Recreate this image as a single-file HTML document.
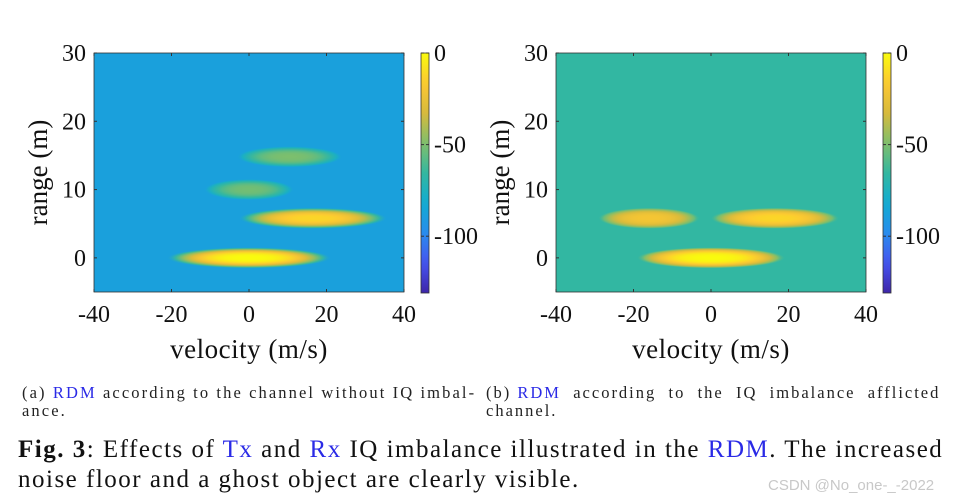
<!DOCTYPE html>
<html><head><meta charset="utf-8"><style>
body{margin:0;background:#fff;width:969px;height:504px;overflow:hidden;font-family:"Liberation Serif",serif}
svg{position:absolute;left:0;top:0}
.cap{position:absolute;font-size:16.5px;color:#222;line-height:18px;letter-spacing:2.1px;white-space:nowrap}
.fig{position:absolute;left:18px;top:435px;font-size:25px;line-height:30px;color:#111;white-space:nowrap;letter-spacing:1.5px}
.b{color:#2a2ae6}
.wm{position:absolute;left:768px;top:477px;font-family:"Liberation Sans",sans-serif;font-size:15px;color:#c8c8c8}
</style></head><body>
<svg id="s" width="969" height="504"></svg>
<div class="cap" style="left:22px;top:384px">(a) <span class="b">RDM</span> according to the channel without IQ imbal-<br>ance.</div>
<div class="cap" style="left:486px;top:384px;letter-spacing:2px">(b) <span class="b">RDM</span>&nbsp; according &nbsp;to &nbsp;the &nbsp;IQ &nbsp;imbalance &nbsp;afflicted<br>channel.</div>
<div class="fig"><b>Fig. 3</b>: Effects of <span class="b">Tx</span> and <span class="b">Rx</span> IQ imbalance illustrated in the <span class="b">RDM</span>. The increased<br>noise floor and a ghost object are clearly visible.</div>
<div class="wm">CSDN @No_one-_-2022</div>
<script>
const xTicks=[-40,-20,0,20,40];
const yTicks=[0,10,20,30];
const cTicks=[0,-50,-100];
const bgA=-88, bgB=-66;
// targets: velocity, range, peak dB, half-width (m/s)
const tgtVelA=[0,16.5,0,10.5];
const tgtRngA=[0,5.8,10,14.8];
const tgtPeakA=[0,-12,-52,-50];
const tgtHwA=[21,19,11.5,13.5];
const tgtVelB=[0,16.5,-16];
const tgtRngB=[0,5.8,5.8];
const tgtPeakB=[0,-12,-20];
const tgtHwB=[19,16.5,13];

const NS="http://www.w3.org/2000/svg",S=document.getElementById('s');
function el(t,a,p){const e=document.createElementNS(NS,t);for(const k in a)e.setAttribute(k,a[k]);(p||S).appendChild(e);return e;}
const P=[[0,[62,38,168]],[.125,[70,84,240]],[.25,[40,140,237]],[.375,[18,172,210]],[.5,[51,183,160]],[.625,[128,191,107]],[.75,[215,186,60]],[.875,[252,200,50]],[1,[249,251,14]]];
function parula(db){let t=Math.max(0,Math.min(1,(db+131)/131));for(let i=1;i<P.length;i++){if(t<=P[i][0]){const a=P[i-1],b=P[i],f=(t-a[0])/(b[0]-a[0]);return 'rgb('+a[1].map((v,j)=>Math.round(v+(b[1][j]-v)*f)).join(',')+')';}}return 'rgb(249,251,14)';}
const defs=el('defs',{});
const cg=el('linearGradient',{id:'cbg',x1:0,y1:1,x2:0,y2:0},defs);
for(let i=0;i<=20;i++)el('stop',{offset:i/20,'stop-color':parula(-131+131*i/20)},cg);
let gid=0;
function panel(ox,bg,vel,rng,peak,hw,tag){
  const L=ox,R=ox+310,T=53,B=292;
  const X=v=>L+(v+40)/80*(R-L), Y=r=>B-(r+5)/35*(B-T);
  el('rect',{x:L,y:T,width:R-L,height:B-T,fill:parula(bg),});
  const cp=el('clipPath',{id:'cp'+tag},defs);el('rect',{x:L,y:T,width:R-L,height:B-T},cp);
  const g=el('g',{'clip-path':'url(#cp'+tag+')'});
  for(let i=0;i<vel.length;i++){
    const id='rg'+(gid++);const rg=el('radialGradient',{id:id},defs);
    for(let k=0;k<=10;k++){const r=k/10;const db=peak[i]+(bg-peak[i])*Math.pow(r,3);
      el('stop',{offset:r,'stop-color':parula(db),'stop-opacity':k==10?0.3:1},rg);}
    const e=el('ellipse',{cx:X(vel[i]),cy:Y(rng[i]),rx:(X(hw[i])-X(0)),ry:10.5,fill:'url(#'+id+')'},g);
    
    
  }
  el('rect',{x:L,y:T,width:R-L,height:B-T,fill:'none',stroke:'#333','stroke-width':0.8});
  xTicks.forEach(v=>{el('line',{x1:X(v),x2:X(v),y1:B,y2:B-3,stroke:'#333'});el('line',{x1:X(v),x2:X(v),y1:T,y2:T+3,stroke:'#333'});
    const t=el('text',{x:X(v),y:B+30,'text-anchor':'middle','font-size':24,fill:'#111'});t.textContent=v;
    });
  yTicks.forEach(v=>{el('line',{x1:L,x2:L+3,y1:Y(v),y2:Y(v),stroke:'#333'});el('line',{x1:R,x2:R-3,y1:Y(v),y2:Y(v),stroke:'#333'});
    const t=el('text',{x:L-8,y:Y(v)+8,'text-anchor':'end','font-size':24,fill:'#111'});t.textContent=v;
    });
  const xl=el('text',{x:(L+R)/2,y:358,'text-anchor':'middle','font-size':27,fill:'#111','letter-spacing':0.5});xl.textContent='velocity (m/s)';
  
  const yl=el('text',{x:0,y:0,'text-anchor':'middle','font-size':27,fill:'#111',transform:`translate(${L-47},${(T+B)/2}) rotate(-90)`});yl.textContent='range (m)';
  
  const cx=R+17,CT=53,CB=293,CY=d=>CT+(-d)/131*(CB-CT);
  const cb=el('rect',{x:cx,y:CT,width:8,height:CB-CT,fill:'url(#cbg)',stroke:'#333','stroke-width':0.8});
  
  cTicks.forEach(d=>{el('line',{x1:cx,x2:cx+3,y1:CY(d),y2:CY(d),stroke:'#333'});el('line',{x1:cx+8,x2:cx+5,y1:CY(d),y2:CY(d),stroke:'#333'});
    const t=el('text',{x:cx+13,y:CY(d)+8,'font-size':24,fill:'#111'});t.textContent=d;
    });
}
panel(94,bgA,tgtVelA,tgtRngA,tgtPeakA,tgtHwA,'a');
panel(556,bgB,tgtVelB,tgtRngB,tgtPeakB,tgtHwB,'b');
</script>
</body></html>
